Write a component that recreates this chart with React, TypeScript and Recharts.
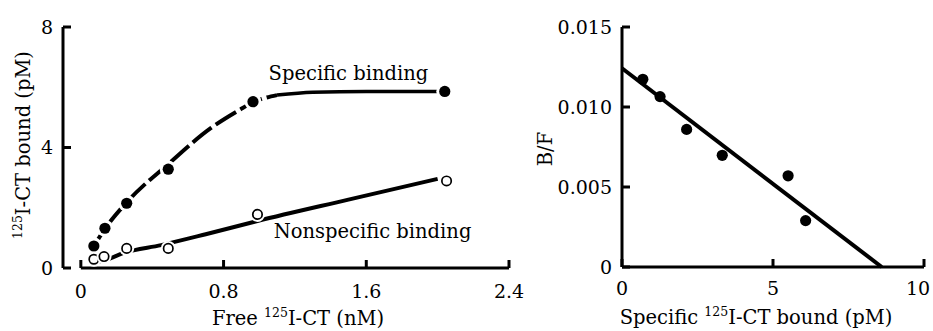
import React from 'react';
import { ComposedChart, Line, Scatter, XAxis, YAxis, ReferenceDot, ReferenceLine, Label } from 'recharts';

// ---- Left panel: saturation binding ----
const freeSpecific = [0.073, 0.135, 0.257, 0.49, 0.965, 2.04];
const boundSpecific = [0.73, 1.32, 2.15, 3.28, 5.52, 5.86];
const freeNonspecific = [0.073, 0.13, 0.257, 0.49, 0.99, 2.05];
const boundNonspecific = [0.29, 0.38, 0.65, 0.65, 1.78, 2.89];

const specificFitDashedX = [0.07, 0.135, 0.257, 0.49, 0.73, 0.89, 0.965, 1.1];
const specificFitDashedY = [0.7, 1.3, 2.18, 3.45, 4.65, 5.25, 5.5, 5.74];
const specificFitSolidX = [1.1, 1.3, 1.6, 2.04];
const specificFitSolidY = [5.74, 5.83, 5.86, 5.86];
const nonspecificFitX = [0.09, 0.144, 0.24, 0.45, 0.7, 0.99, 1.5, 2.0];
const nonspecificFitY = [0.2, 0.28, 0.5, 0.76, 1.12, 1.56, 2.27, 2.96];

const leftXTicks = [0, 0.8, 1.6, 2.4];
const leftYTicks = [0, 4, 8];

// ---- Right panel: Scatchard plot ----
const scatchardBound = [0.69, 1.26, 2.14, 3.32, 5.5, 6.08];
const scatchardBF = [0.01173, 0.01065, 0.0086, 0.00698, 0.0057, 0.0029];
const regressionX = [0, 8.6];
const regressionY = [0.01242, 0];

const rightXTicks = [0, 5, 10];
const rightYTicks = [0, 0.005, 0.01, 0.015];

const zip = (xs: number[], ys: number[]) => xs.map((x, i) => ({ x, y: ys[i] }));

const FONT = 'DejaVu Serif';
const TICK_SIZE = 19;
const TITLE_SIZE = 19.5;

const FilledHalo = (p: any) => (
  <g>
    <circle cx={p.cx} cy={p.cy} r={8.5} fill="#fff" />
    <circle cx={p.cx} cy={p.cy} r={5.6} fill="#000" />
  </g>
);
const OpenHalo = (p: any) => (
  <g>
    <circle cx={p.cx} cy={p.cy} r={7.5} fill="#fff" />
    <circle cx={p.cx} cy={p.cy} r={4.7} fill="#fff" stroke="#000" strokeWidth={1.7} />
  </g>
);
const Filled = (p: any) => <circle cx={p.cx} cy={p.cy} r={5.6} fill="#000" />;

const SupText = ({ x, y, pre, sup, post, rotate }: any) => (
  <text
    x={x}
    y={y}
    textAnchor="middle"
    fontFamily={FONT}
    fontSize={TITLE_SIZE}
    fill="#000"
    transform={rotate ? `rotate(-90 ${x} ${y})` : undefined}
  >
    {pre}
    <tspan fontSize={12.5} dy={-8}>{sup}</tspan>
    <tspan dy={8}>{post}</tspan>
  </text>
);

const tickStyle = { fontFamily: FONT, fontSize: TICK_SIZE, fill: '#000' };
const axisLineStyle = { stroke: '#000', strokeWidth: 3 };
const tickLineStyle = { stroke: '#000', strokeWidth: 3 };

const RightXTick = (p: any) => {
  const shift = p.payload.value === 10 ? -6 : 0;
  return (
    <text x={p.x + shift} y={p.y} dy="0.71em" textAnchor="middle" fontFamily={FONT} fontSize={TICK_SIZE} fill="#000">
      {p.payload.value}
    </text>
  );
};

const annot = (text: string) => (props: any) => {
  const vb = props.viewBox || {};
  const cx = vb.cx ?? vb.x;
  const cy = vb.cy ?? vb.y;
  return (
    <text x={cx} y={cy} textAnchor="middle" dominantBaseline="central" fontFamily={FONT} fontSize={TITLE_SIZE} fill="#000">
      {text}
    </text>
  );
};

const LeftPanel = () => (
  <ComposedChart width={540} height={331} margin={{ top: 27, right: 31, bottom: 23, left: 23 }}>
    <XAxis
      type="number"
      dataKey="x"
      domain={[-0.1, 2.4]}
      ticks={leftXTicks}
      tickFormatter={(v: number) => (v === 0 ? '0' : v.toFixed(1))}
      axisLine={false}
      tickLine={tickLineStyle}
      tickSize={-8}
      tickMargin={25}
      tick={tickStyle}
      height={40}
      allowDataOverflow
    >
      <Label content={() => <SupText x={298} y={325} pre="Free " sup="125" post="I-CT (nM)" />} />
    </XAxis>
    <YAxis
      type="number"
      dataKey="y"
      domain={[0, 8]}
      ticks={leftYTicks}
      axisLine={axisLineStyle}
      tickLine={tickLineStyle}
      tickSize={-8}
      tickMargin={18}
      tick={tickStyle}
      width={40}
    >
      <Label content={() => <SupText x={30} y={145} pre="" sup="125" post="I-CT bound (pM)" rotate />} />
    </YAxis>
    <ReferenceLine
      segment={[{ x: 0, y: 0 }, { x: 2.4, y: 0 }]}
      stroke="#000"
      strokeWidth={3}
      ifOverflow="visible"
    />
    <Line
      data={zip(specificFitDashedX, specificFitDashedY)}
      dataKey="y"
      type="monotone"
      stroke="#000"
      strokeWidth={4}
      strokeDasharray="24 5"
      dot={false}
      isAnimationActive={false}
    />
    <Line
      data={zip(specificFitSolidX, specificFitSolidY)}
      dataKey="y"
      type="monotone"
      stroke="#000"
      strokeWidth={3.5}
      dot={false}
      isAnimationActive={false}
    />
    <Line
      data={zip(nonspecificFitX, nonspecificFitY)}
      dataKey="y"
      type="monotone"
      stroke="#000"
      strokeWidth={4}
      dot={false}
      isAnimationActive={false}
    />
    <Scatter data={zip(freeSpecific, boundSpecific)} shape={FilledHalo} isAnimationActive={false} />
    <Scatter data={zip(freeNonspecific, boundNonspecific)} shape={OpenHalo} isAnimationActive={false} />
    <ReferenceDot x={1.5} y={6.45} r={0} fill="none" stroke="none" label={{ content: annot('Specific binding') } as any} />
    <ReferenceDot x={1.635} y={1.2} r={0} fill="none" stroke="none" label={{ content: annot('Nonspecific binding') } as any} />
  </ComposedChart>
);

const RightPanel = () => (
  <ComposedChart width={413} height={331} margin={{ top: 27, right: 9, bottom: 24, left: 22 }}>
    <XAxis
      type="number"
      dataKey="x"
      domain={[0, 10]}
      ticks={rightXTicks}
      axisLine={axisLineStyle}
      tickLine={tickLineStyle}
      tickSize={-8}
      tickMargin={23}
      tick={<RightXTick />}
      height={40}
    >
      <Label content={() => <SupText x={236} y={324} pre="Specific " sup="125" post="I-CT bound (pM)" />} />
    </XAxis>
    <YAxis
      type="number"
      dataKey="y"
      domain={[0, 0.015]}
      ticks={rightYTicks}
      tickFormatter={(v: number) => (v === 0 ? '0' : v.toFixed(3))}
      axisLine={axisLineStyle}
      tickLine={tickLineStyle}
      tickSize={-8}
      tickMargin={18}
      tick={tickStyle}
      width={80}
    >
      <Label
        content={() => (
          <text x={32} y={149} textAnchor="middle" fontFamily={FONT} fontSize={TITLE_SIZE} fill="#000" transform="rotate(-90 32 149)">
            B/F
          </text>
        )}
      />
    </YAxis>
    <Line
      data={zip(regressionX, regressionY)}
      dataKey="y"
      type="linear"
      stroke="#000"
      strokeWidth={4}
      dot={false}
      isAnimationActive={false}
    />
    <Scatter data={zip(scatchardBound, scatchardBF)} shape={Filled} isAnimationActive={false} />
  </ComposedChart>
);

export default function App() {
  return (
    <div style={{ position: 'absolute', left: 0, top: 0, width: 933, height: 331, background: '#fff', overflow: 'hidden' }}>
      <div style={{ position: 'absolute', left: 0, top: 0 }}>
        <LeftPanel />
      </div>
      <div style={{ position: 'absolute', left: 520, top: 0 }}>
        <RightPanel />
      </div>
    </div>
  );
}
